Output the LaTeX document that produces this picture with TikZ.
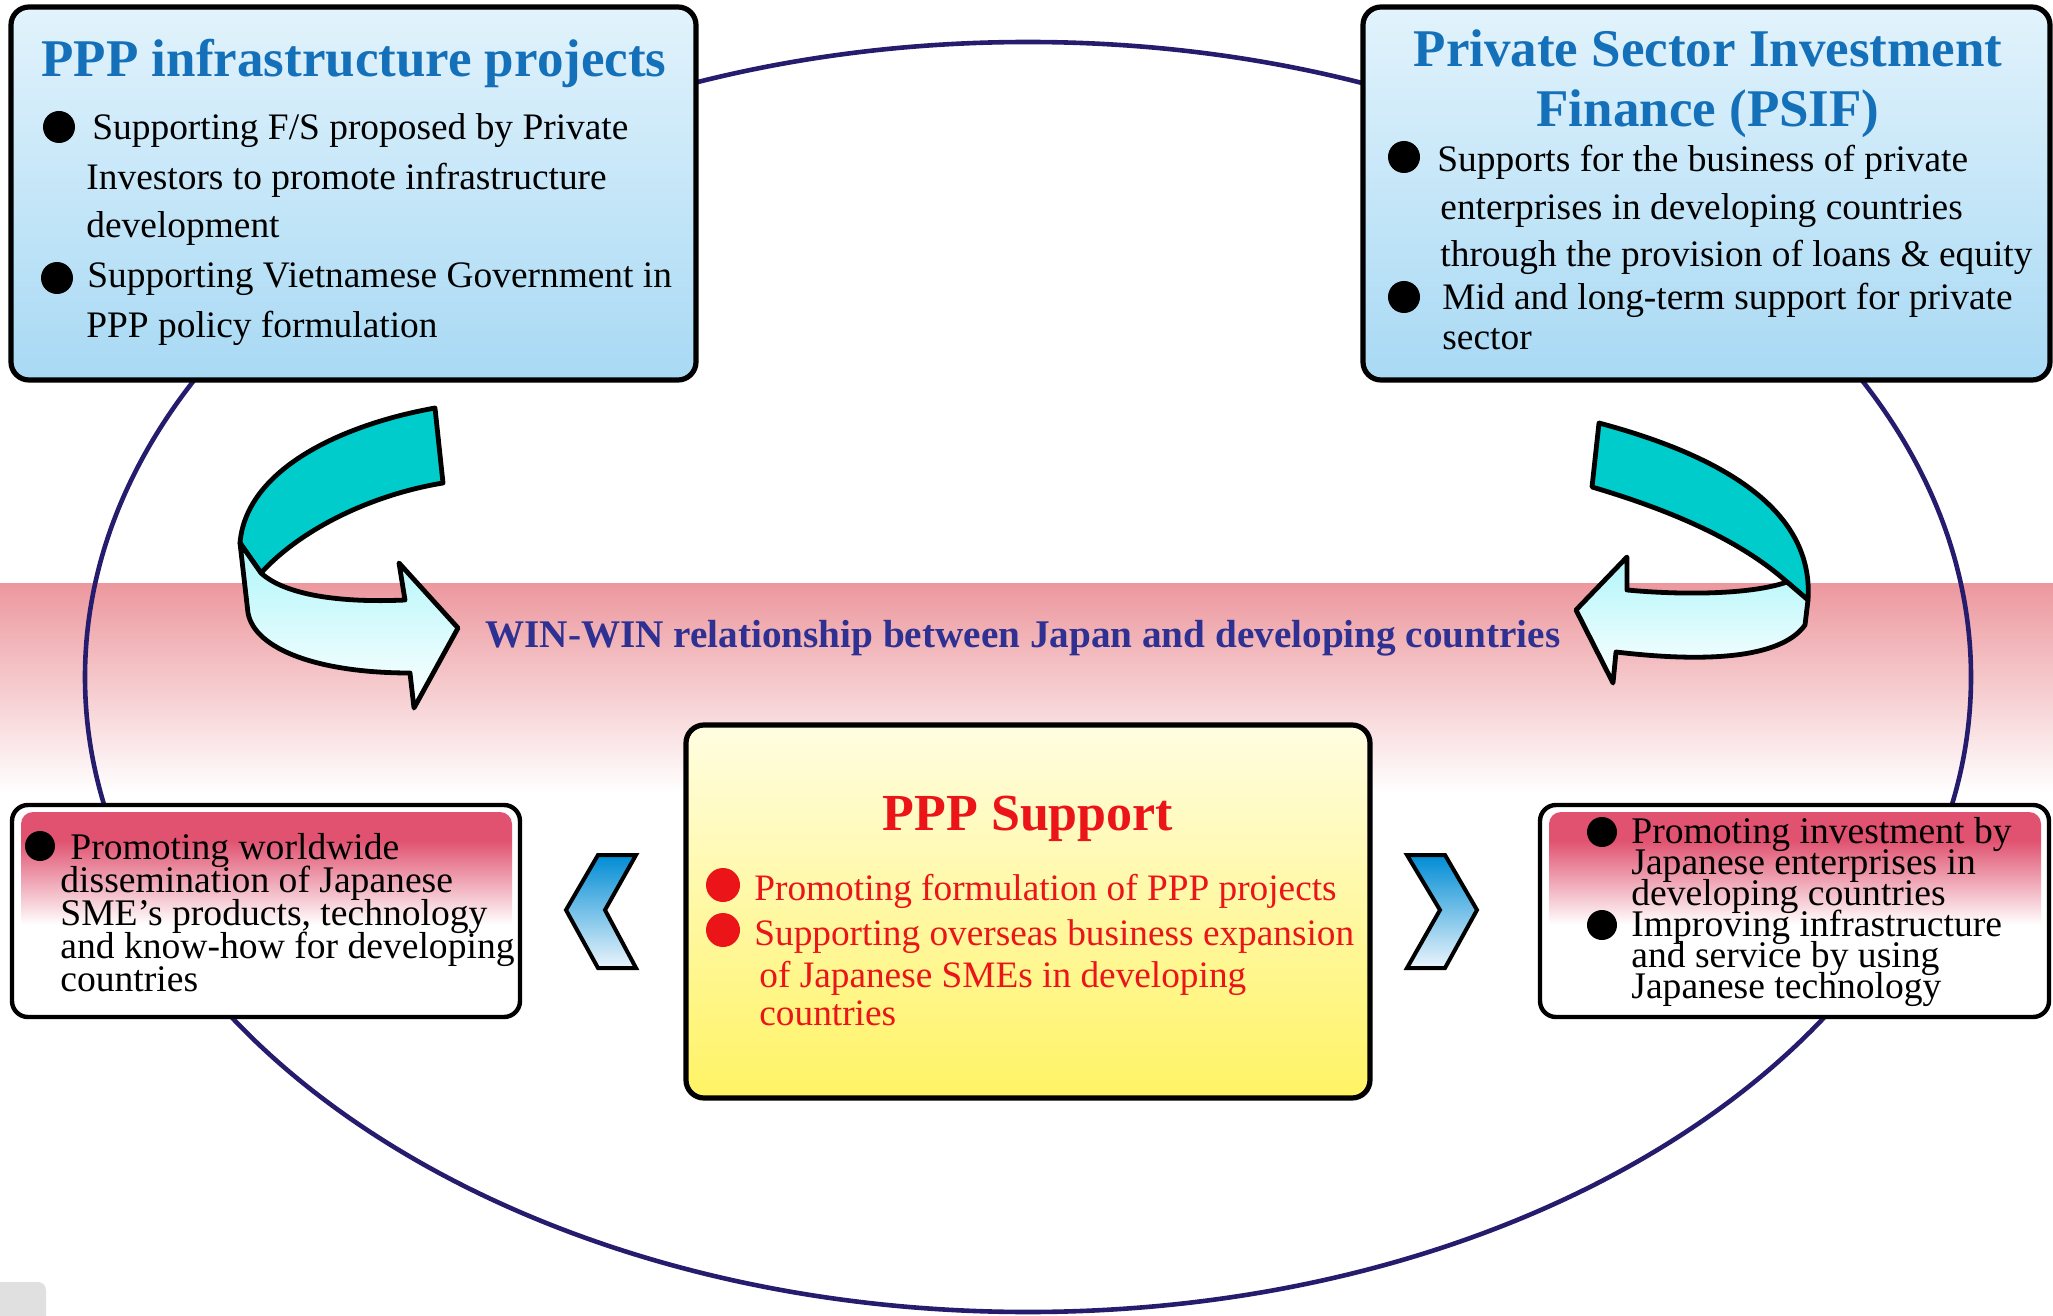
\documentclass[tikz,border=0pt]{standalone}
\usepackage{fontspec}
\setmainfont{Liberation Serif}
\definecolor{bandtop}{RGB}{236,152,158}
\definecolor{ellc}{RGB}{38,28,110}
\definecolor{titleblue}{RGB}{20,112,184}
\definecolor{winblue}{RGB}{46,49,146}
\definecolor{tealc}{RGB}{0,204,204}
\definecolor{lcyan}{RGB}{175,246,250}
\definecolor{bluetop}{RGB}{226,243,252}
\definecolor{bluebot}{RGB}{168,217,244}
\definecolor{yeltop}{RGB}{255,253,225}
\definecolor{yelbot}{RGB}{255,243,100}
\definecolor{pinkc}{RGB}{224,82,112}
\definecolor{redc}{RGB}{235,20,25}
\definecolor{chevtop}{RGB}{0,140,212}
\definecolor{chevbot}{RGB}{235,245,252}
\definecolor{tabgray}{RGB}{224,224,224}
\begin{document}
\begin{tikzpicture}[x=0.5pt,y=-0.5pt,
  bigbox/.style={draw=black, line width=2.6pt, rounded corners=9pt},
  smallbox/.style={draw=black, line width=2.2pt, rounded corners=8pt, fill=white},
  pinktop/.style={fill=pinkc, rounded corners=6pt},
  pinkfade/.style={top color=pinkc, bottom color=white},
  bodytxt/.style={anchor=base west, inner sep=0pt, font=\fontsize{18.7}{22}\selectfont, text=black},
  lowtxt/.style={anchor=base west, inner sep=0pt, font=\fontsize{18.8}{22}\selectfont, text=black},
  redtxt/.style={anchor=base west, inner sep=0pt, font=\fontsize{18.65}{22}\selectfont, text=redc},
  titletxt/.style={anchor=base, inner sep=0pt, font=\fontsize{26.5}{30}\selectfont\bfseries, text=titleblue},
  ribbon/.style={draw=black, line width=2.4pt, line join=round},
  chev/.style={draw=black, line width=2pt, line join=miter, top color=chevtop, bottom color=chevbot}
]
\useasboundingbox (0,0) rectangle (2053,1316);
% pink band
\shade[top color=bandtop, bottom color=white] (0,583) rectangle (2053,793);
% ellipse
\draw[ellc, line width=2.3pt] (1028,677) ellipse [x radius=471.5pt, y radius=317.5pt];
% gray tab
\fill[tabgray] (0,1316) -- (0,1282) -- (38,1282) arc[start angle=90, end angle=0, radius=4pt] -- (46,1316) -- cycle;

% top boxes
\path[bigbox, top color=bluetop, bottom color=bluebot] (11,7) rectangle (696,380);
\path[bigbox, top color=bluetop, bottom color=bluebot] (1363,7) rectangle (2050,380);

% left curved arrow
\path[ribbon, fill=tealc] (435,408) .. controls (340,425) and (246,470) .. (240,543)
  -- (261,573) .. controls (300,530) and (370,495) .. (443,483) -- cycle;
\path[ribbon, top color=lcyan, bottom color=white] (240,543) -- (248,613)
  .. controls (255,650) and (320,673) .. (410,673) -- (414,708) -- (458,628) -- (399,563)
  -- (405,600) .. controls (340,603) and (285,595) .. (261,573) -- cycle;

% right curved arrow
\path[ribbon, fill=tealc] (1599,423) .. controls (1700,450) and (1815,500) .. (1808,600)
  -- (1787,582) .. controls (1740,540) and (1670,510) .. (1592,487) -- cycle;
\path[ribbon, top color=lcyan, bottom color=white] (1787,582)
  .. controls (1750,595) and (1680,595) .. (1627,590) -- (1627,557) -- (1576,610)
  -- (1613,683) -- (1616,652) .. controls (1700,662) and (1780,660) .. (1805,625)
  -- (1808,600) -- cycle;

% lower side boxes
\path[smallbox] (12,805) rectangle (520,1017);
\path[pinktop] (21,812) rectangle (512,852);
\shade[pinkfade] (21,840) rectangle (512,925);
\path[smallbox] (1540,805) rectangle (2049,1017);
\path[pinktop] (1549,812) rectangle (2041,852);
\shade[pinkfade] (1549,840) rectangle (2041,925);

% middle box
\path[bigbox, top color=yeltop, bottom color=yelbot] (686,725) rectangle (1370,1098);

% chevrons
\path[chev] (598,855) -- (636,855) -- (605,910) -- (636,968) -- (598,968) -- (566,910) -- cycle;
\path[chev] (1407,855) -- (1445,855) -- (1477,910) -- (1445,968) -- (1407,968) -- (1440,910) -- cycle;

% ---- texts ----
\node[titletxt] (t1) at (354,77) {PPP infrastructure projects};
\fill[black] (59,127) circle[radius=8pt];
\fill[black] (57,278) circle[radius=8pt];
\node[bodytxt] (a1) at (92,140) {Supporting F/S proposed by Private};
\node[bodytxt] (a2) at (86,190) {Investors to promote infrastructure};
\node[bodytxt] (a3) at (86,238) {development};
\node[bodytxt] (a4) at (87,288) {Supporting Vietnamese Government in};
\node[bodytxt] (a5) at (86,338) {PPP policy formulation};

\node[titletxt] (t2a) at (1708,67) {Private Sector Investment};
\node[titletxt] (t2b) at (1708,127) {Finance (PSIF)};
\fill[black] (1404,157) circle[radius=8pt];
\fill[black] (1404,297) circle[radius=8pt];
\node[bodytxt] (b1) at (1437,172) {Supports for the business of private};
\node[bodytxt] (b2) at (1440,220) {enterprises in developing countries};
\node[bodytxt] (b3) at (1440,267) {through the provision of loans \& equity};
\node[bodytxt] (b4) at (1442,310) {Mid and long-term support for private};
\node[bodytxt] (b5) at (1442,350) {sector};

\node[anchor=base, inner sep=0pt, font=\fontsize{19.6}{22}\selectfont\bfseries, text=winblue] (win) at (1023,647)
  {WIN-WIN relationship between Japan and developing countries};

\node[anchor=base, inner sep=0pt, font=\fontsize{26}{30}\selectfont\bfseries, text=redc] (t3) at (1028,830) {PPP Support};
\fill[redc] (723,885) circle[radius=8.5pt];
\fill[redc] (723,930) circle[radius=8.5pt];
\node[redtxt] (c1) at (754,900) {Promoting formulation of PPP projects};
\node[redtxt] (c2) at (754,945) {Supporting overseas business expansion};
\node[redtxt] (c3) at (759,987) {of Japanese SMEs in developing};
\node[redtxt] (c4) at (759,1025) {countries};

\fill[black] (40,846) circle[radius=7.5pt];
\node[lowtxt] (d1) at (70,859) {Promoting worldwide};
\node[lowtxt] (d2) at (60,892) {dissemination of Japanese};
\node[lowtxt] (d3) at (60,925) {SME’s products, technology};
\node[lowtxt] (d4) at (60,958) {and know-how for developing};
\node[lowtxt] (d5) at (60,991) {countries};

\fill[black] (1602,832) circle[radius=7.5pt];
\fill[black] (1602,925) circle[radius=7.5pt];
\node[lowtxt] (e1) at (1631,843) {Promoting investment by};
\node[lowtxt] (e2) at (1631,874) {Japanese enterprises in};
\node[lowtxt] (e3) at (1631,905) {developing countries};
\node[lowtxt] (e4) at (1631,936) {Improving infrastructure};
\node[lowtxt] (e5) at (1631,967) {and service by using};
\node[lowtxt] (e6) at (1631,998) {Japanese technology};
\end{tikzpicture}
\end{document}
